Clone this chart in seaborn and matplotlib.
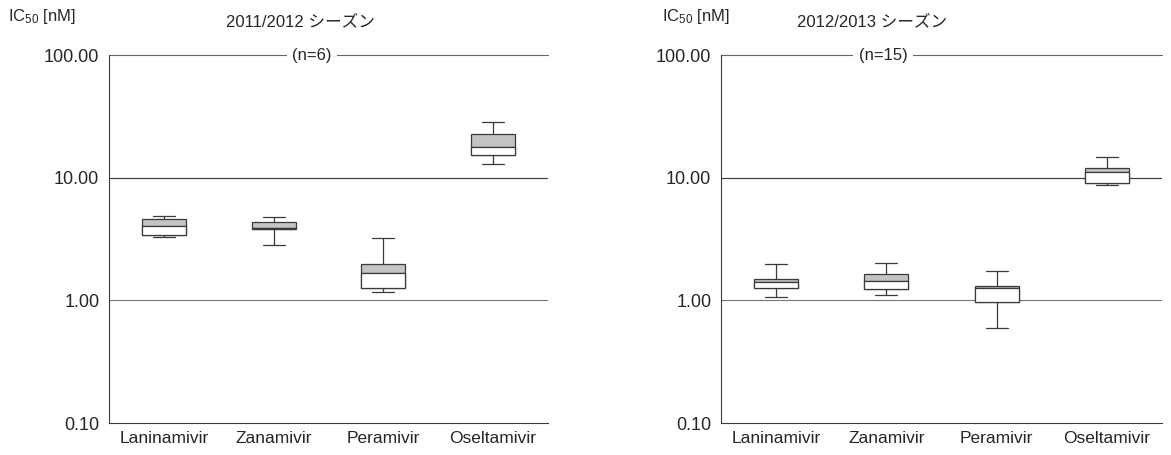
import numpy as np
import pandas as pd
import matplotlib
matplotlib.use("Agg")
import matplotlib.pyplot as plt
from matplotlib.ticker import FixedLocator, FormatStrFormatter, LogLocator, NullFormatter
import seaborn as sns

# Drugs on the x axis
drugs = ["Laninamivir", "Zanamivir", "Peramivir", "Oseltamivir"]

# IC50 [nM]: whisker low, Q1, median, Q3, whisker high
lan_1112 = [3.30, 3.44, 4.02, 4.64, 4.84]
zan_1112 = [2.85, 3.78, 3.92, 4.33, 4.79]
per_1112 = [1.16, 1.27, 1.68, 1.96, 3.21]
ose_1112 = [12.9, 15.4, 17.8, 22.8, 28.2]

lan_1213 = [1.07, 1.27, 1.40, 1.50, 1.96]
zan_1213 = [1.10, 1.24, 1.43, 1.63, 2.01]
per_1213 = [0.60, 0.97, 1.26, 1.30, 1.72]
ose_1213 = [8.73, 9.00, 11.07, 11.9, 14.8]

seasons = ["2011/2012 シーズン", "2012/2013 シーズン"]
n_labels = ["(n=6)", "(n=15)"]
yticks = [0.1, 1, 10, 100]

panels = [[lan_1112, zan_1112, per_1112, ose_1112],
          [lan_1213, zan_1213, per_1213, ose_1213]]

sns.set_style("white")
plt.rcParams["font.family"] = ["Liberation Sans", "Noto Sans CJK JP", "DejaVu Sans"]
plt.rcParams["mathtext.default"] = "regular"

edge = "#3a3a3a"
fig = plt.figure(figsize=(11.71, 4.55), dpi=100)

# axes placement in pixels (left, right) -> figure fractions
ax_px = [(109, 548), (721, 1162)]
title_x = [1.24, 0.87]
n_x = [1.35, 0.97]
ic_x = [8, 662]

for k, vals in enumerate(panels):
    x0, x1 = ax_px[k]
    ax = fig.add_axes([x0 / 1171, 1 - 423 / 455, (x1 - x0) / 1171, 368 / 455])

    df = pd.DataFrame({"drug": np.repeat(drugs, 5), "ic50": np.concatenate(vals)})
    sns.boxplot(data=df, x="drug", y="ic50", ax=ax, log_scale=True,
                whis=(0, 100), width=0.4, color="#c4c4c4", saturation=1,
                linecolor=edge, linewidth=0.9)

    # lower half of each box is left white
    for i, v in enumerate(vals):
        ax.bar(i, v[2] - v[1], bottom=v[1], width=0.4, color="white",
               edgecolor=edge, linewidth=0.9, zorder=3)

    ax.axhline(10, color="#444444", lw=0.9, zorder=1)
    ax.axhline(1, color="#777777", lw=0.8, zorder=1)
    ax.axhline(100, color="#666666", lw=0.8, zorder=1, clip_on=False)

    ax.set_ylim(0.1, 100)
    ax.set_xlim(-0.5, 3.5)
    ax.yaxis.set_major_locator(FixedLocator(yticks))
    ax.yaxis.set_major_formatter(FormatStrFormatter("%.2f"))
    ax.yaxis.set_minor_locator(LogLocator(base=10, subs=np.arange(2, 10)))
    ax.yaxis.set_minor_formatter(NullFormatter())
    ax.tick_params(axis="y", which="major", direction="in", length=4,
                   width=0.7, color=edge, labelsize=13, pad=7)
    ax.tick_params(axis="y", which="minor", direction="in", length=2.5,
                   width=0.6, color=edge)
    ax.xaxis.set_minor_locator(FixedLocator([0.5, 1.5, 2.5, 3.5]))
    ax.tick_params(axis="x", which="major", length=0, labelsize=12.5, pad=6)
    ax.tick_params(axis="x", which="minor", direction="in", length=3,
                   width=0.6, color=edge)
    ax.set_xlabel("")
    ax.set_ylabel("")
    for s in ["top", "right"]:
        ax.spines[s].set_visible(False)
    for s in ["left", "bottom"]:
        ax.spines[s].set_color(edge)
        ax.spines[s].set_linewidth(0.8)

    ax.text(title_x[k], 1.09, seasons[k], transform=ax.get_xaxis_transform(),
            ha="center", va="center", fontsize=12)
    ax.text(n_x[k], 100, n_labels[k], ha="center", va="center", fontsize=12,
            bbox=dict(facecolor="white", edgecolor="none", pad=4), zorder=5)
    fig.text(ic_x[k] / 1171, 1 - 16 / 455, r"IC$_{50}$ [nM]", ha="left",
             va="center", fontsize=12)

fig.savefig("out.png", dpi=100)
